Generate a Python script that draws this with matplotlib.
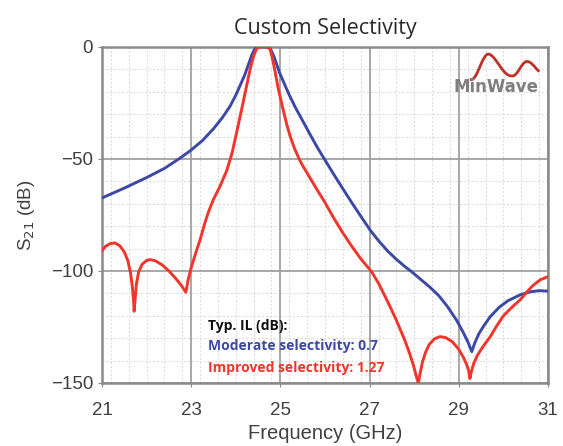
import matplotlib
matplotlib.use('Agg')
import matplotlib.pyplot as plt
import numpy as np
from matplotlib.ticker import MultipleLocator

# ---- data (GHz, dB) ----
freq_moderate = [21.0, 21.5, 22.0, 22.4, 22.75, 23.0, 23.25, 23.5, 23.7, 23.87,
                 24.0, 24.1, 24.2, 24.28, 24.36, 24.42, 24.5, 24.7, 24.78, 24.85,
                 24.92, 24.98, 25.1, 25.2, 25.33, 25.5, 25.65, 25.82, 26.0, 26.2,
                 26.4, 26.6, 26.8, 27.01, 27.2, 27.4, 27.6, 27.8, 27.94, 28.1,
                 28.35, 28.55, 28.75, 28.95, 29.1, 29.2, 29.29, 29.36, 29.45, 29.55,
                 29.7, 29.9, 30.1, 30.37, 30.6, 30.8, 31.0]
s21_moderate = [-67.4, -63.0, -58.3, -54.2, -49.6, -46.0, -41.8, -36.5, -31.5, -26.5,
                -21.5, -17.0, -12.5, -8.0, -3.5, -1.0, 0.0, 0.0, -1.0, -4.0,
                -8.0, -11.5, -17.0, -21.5, -26.8, -33.0, -38.5, -44.6, -50.5, -57.0,
                -63.3, -69.5, -75.5, -81.7, -86.5, -91.0, -94.8, -98.2, -100.3, -103.0,
                -107.2, -111.0, -116.0, -122.0, -127.5, -131.5, -136.0, -132.0, -128.0, -124.8,
                -120.5, -116.3, -113.3, -110.7, -109.3, -108.8, -109.0]

freq_improved = [21.0, 21.08, 21.18, 21.29, 21.4, 21.5, 21.58, 21.64, 21.68, 21.71,
                 21.72, 21.74, 21.77, 21.82, 21.9, 22.0, 22.08, 22.2, 22.35, 22.5,
                 22.65, 22.78, 22.88, 22.93, 23.0, 23.1, 23.2, 23.3, 23.38, 23.5,
                 23.65, 23.8, 23.92, 24.02, 24.14, 24.24, 24.32, 24.4, 24.46, 24.52,
                 24.72, 24.77, 24.82, 24.88, 24.95, 25.05, 25.14, 25.22, 25.32, 25.42,
                 25.5, 25.65, 25.8, 26.0, 26.2, 26.4, 26.6, 26.8, 27.05, 27.2,
                 27.35, 27.46, 27.6, 27.79, 27.9, 27.98, 28.04, 28.09, 28.13, 28.18,
                 28.25, 28.33, 28.45, 28.58, 28.7, 28.85, 29.0, 29.1, 29.18, 29.22,
                 29.25, 29.28, 29.33, 29.42, 29.55, 29.7, 29.85, 30.0, 30.2, 30.37,
                 30.52, 30.66, 30.82, 31.0]
s21_improved = [-91.0, -89.0, -87.8, -87.5, -88.8, -91.5, -95.5, -101.0, -107.0, -114.0,
                -118.0, -113.0, -106.0, -100.5, -97.0, -95.3, -94.9, -95.5, -97.3, -100.0,
                -103.3, -106.5, -109.5, -104.0, -98.5, -92.0, -86.0, -79.0, -74.0, -68.0,
                -62.0, -55.0, -47.0, -38.0, -27.0, -17.5, -10.0, -4.0, -1.0, 0.0,
                0.0, -1.2, -5.0, -11.0, -18.5, -27.0, -34.5, -40.0, -45.5, -50.0,
                -53.0, -58.0, -63.0, -69.5, -76.5, -83.0, -89.0, -94.5, -100.5, -105.5,
                -111.5, -116.0, -122.0, -131.0, -137.0, -142.0, -146.5, -150.0, -146.0, -141.0,
                -136.5, -133.0, -130.3, -129.3, -129.7, -131.5, -135.0, -138.5, -142.0, -144.5,
                -148.0, -145.0, -141.5, -137.5, -133.5, -129.5, -124.5, -120.0, -116.0, -113.0,
                -109.5, -106.5, -104.0, -102.5]

labels = ['Moderate selectivity: 0.7', 'Improved selectivity: 1.27']
x_ticks = [21, 23, 25, 27, 29, 31]
y_ticks = [0, -50, -100, -150]

BLUE = '#3c48a8'
RED = '#f2352b'

# ---- figure ----
fig = plt.figure(figsize=(5.63, 4.46), dpi=100)
ax = fig.add_axes([0.1812, 0.1413, 0.7922, 0.7534])

ax.plot(freq_moderate, s21_moderate, color=BLUE, lw=2.1, zorder=3)
ax.plot(freq_improved, s21_improved, color=RED, lw=2.1, zorder=4)

ax.set_xlim(21, 31); ax.set_ylim(-150, 0)
ax.set_xticks(x_ticks); ax.set_yticks(y_ticks)
ax.xaxis.set_minor_locator(MultipleLocator(0.4))
ax.yaxis.set_minor_locator(MultipleLocator(10))
ax.grid(which='major', color='#a0a0a0', lw=1.3)
ax.grid(which='minor', color='#d8d8d8', lw=0.7, ls=(0, (2, 2)))
ax.set_axisbelow(True)
for sp in ax.spines.values():
    sp.set_color('#8a8a8a'); sp.set_linewidth(1.8)

ax.tick_params(which='major', length=3, color='#8a8a8a', labelcolor='#404040', labelsize=13.5)
ax.tick_params(which='minor', length=0)
ax.tick_params(axis='x', pad=11)
for lab in ax.get_xticklabels() + ax.get_yticklabels():
    lab.set_family('Liberation Sans')

ax.set_xlabel('Frequency (GHz)', family='Liberation Sans', size=14.5, color='#404040', labelpad=3)
ax.set_ylabel('S$_{21}$ (dB)', family='Liberation Sans', size=13.5, color='#404040', labelpad=10)
ax.set_title('Custom Selectivity', family='Open Sans', size=15.5, color='#2a2a2a', pad=9)

# ---- IL annotation ----
ann = dict(family='Open Sans', weight='bold', size=10, va='center')
ax.text(23.38, -124.5, 'Typ. IL (dB):', color='#111111', **ann)
ax.text(23.38, -133.7, labels[0], color=BLUE, **ann)
ax.text(23.38, -143.3, labels[1], color=RED, **ann)

# ---- logo (decoration) ----
t = np.linspace(0, 1, 100)
phase = np.interp(t, [0, 0.26, 0.62, 0.84, 1], [-np.pi / 2, np.pi / 2, 3 * np.pi / 2, 5 * np.pi / 2, 3.1 * np.pi])
amp = np.interp(t, [0, 0.26, 0.62, 1], [0.04, 0.038, 0.024, 0.018])
mid = np.interp(t, [0, 1], [0.943, 0.935])
ax.plot(0.828 + 0.15 * t, mid + amp * np.sin(phase),
        transform=ax.transAxes, color='#c0302a', lw=2.0, zorder=5)
ax.text(0.883, 0.881, 'MinWave', transform=ax.transAxes, family='DejaVu Sans',
        weight='bold', size=12, color='#7f7f7f', ha='center', va='center', zorder=5)

plt.savefig('out.png', dpi=100)
